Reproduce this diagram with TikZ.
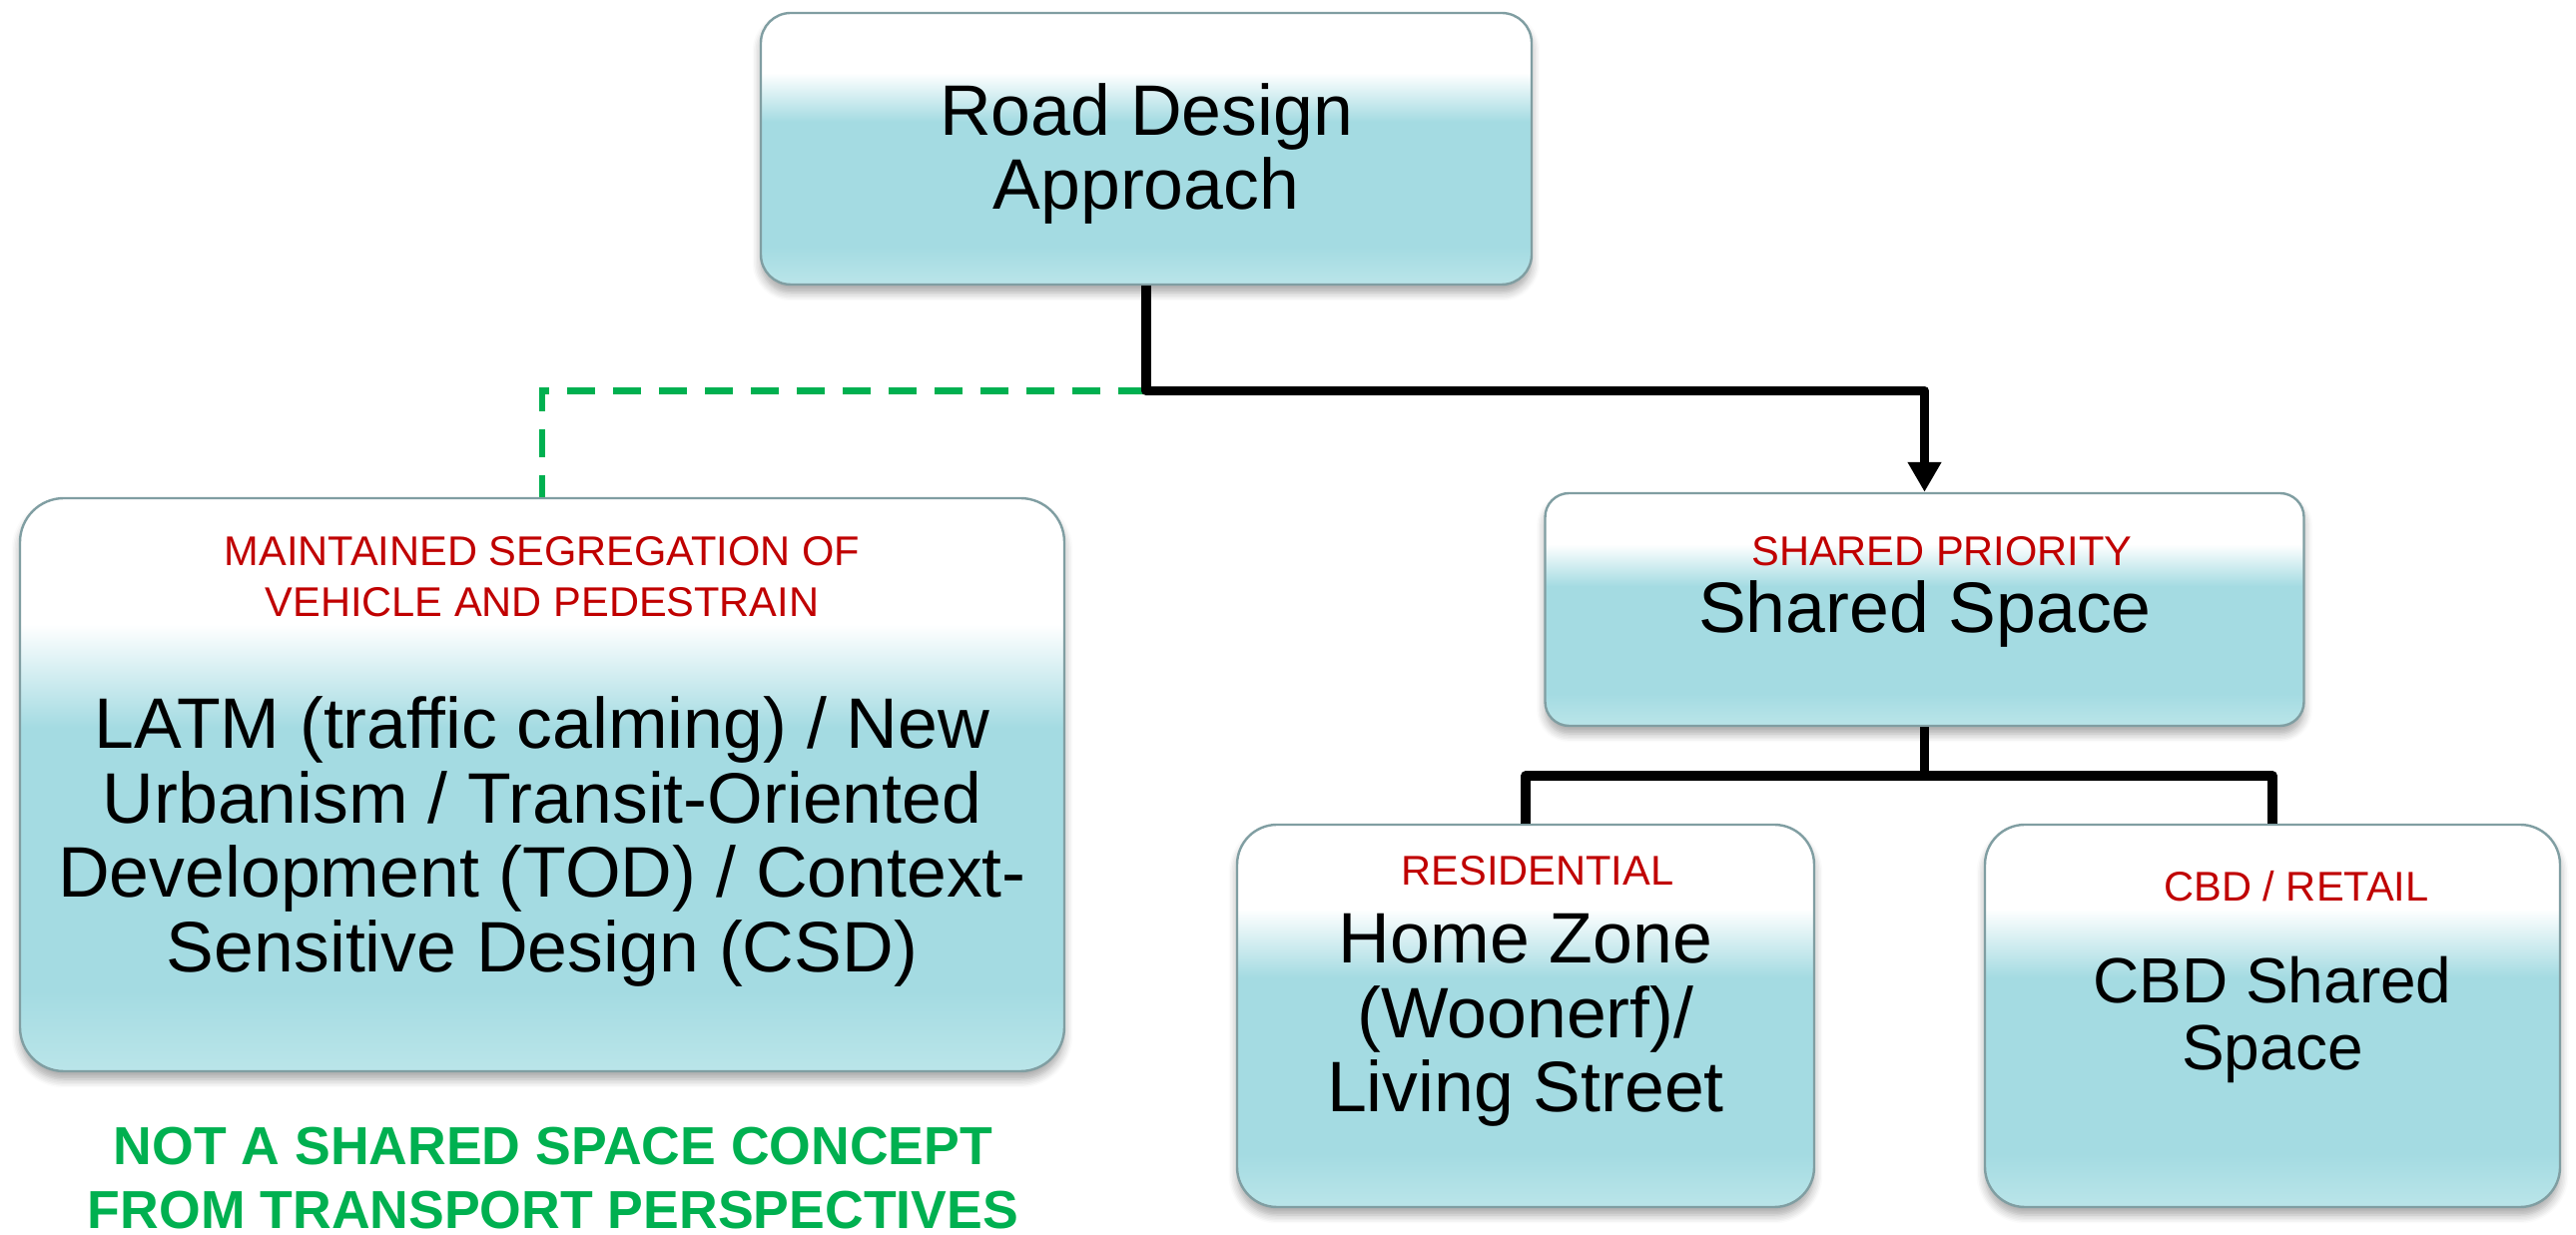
\documentclass[tikz,border=0pt]{standalone}
\usepackage{fontspec}
\setmainfont{Liberation Sans}
\usetikzlibrary{arrows.meta,shadows.blur}

\definecolor{tealmid}{RGB}{164,219,226}
\definecolor{tealbot}{RGB}{186,229,233}
\definecolor{boxedge}{RGB}{128,158,162}
\definecolor{redtxt}{RGB}{192,0,0}
\definecolor{greentxt}{RGB}{0,176,80}

\pgfdeclareverticalshading{boxshade}{100bp}{color(0bp)=(tealbot); color(25bp)=(tealbot); color(32bp)=(tealmid); color(55bp)=(tealmid); color(64bp)=(white); color(75bp)=(white); color(100bp)=(white)}

\tikzset{
  rbox/.style={draw=boxedge, line width=0.6pt, rounded corners=#1, shade, shading=boxshade,
    blur shadow={shadow xshift=0pt, shadow yshift=-2pt, shadow blur steps=6, shadow opacity=35},
    inner sep=0pt},
  maintxt/.style={font=\fontsize{17.9}{18.6}\selectfont, align=center, inner sep=0pt},
  redlab/.style={text=redtxt, font=\fontsize{10.4}{12.75}\selectfont, align=center, inner sep=0pt},
  greenlab/.style={text=greentxt, font=\bfseries\fontsize{13.4}{16}\selectfont, align=center, inner sep=0pt},
  conn/.style={draw=black, line width=2.4pt, line join=round},
  gdash/.style={draw=greentxt, line width=1.6pt, dash pattern=on 7pt off 4.5pt},
}

\begin{document}
\begin{tikzpicture}[x=0.25pt, y=-0.25pt]
\useasboundingbox (0,0) rectangle (2580,1237);

% boxes
\node[rbox=7.5pt, minimum width=193pt, minimum height=68pt] (top) at (1148,149) {};
\node[rbox=11pt, minimum width=261.5pt, minimum height=143.5pt] (left) at (543,786) {};
\node[rbox=6pt, minimum width=190pt, minimum height=58.25pt] (shared) at (1927.5,610.5) {};
\node[rbox=10pt, minimum width=144.5pt, minimum height=95.75pt] (home) at (1528,1017.5) {};
\node[rbox=10pt, minimum width=144pt, minimum height=95.75pt] (cbd) at (2276,1017.5) {};

% texts
\node[maintxt] (toptxt) at (1148,154) {Road Design\\Approach};
\node[redlab] (leftred) at (543,578) {MAINTAINED SEGREGATION OF\\VEHICLE AND PEDESTRAIN};
\node[maintxt] (lefttxt) at (543,843) {LATM (traffic calming) / New\\Urbanism / Transit-Oriented\\Development (TOD) / Context-\\Sensitive Design (CSD)};
\node[redlab] (sharedred) at (1945,552) {SHARED PRIORITY};
\node[maintxt] (sharedtxt) at (1928,615) {Shared Space};
\node[redlab] (homered) at (1540,872) {RESIDENTIAL};
\node[maintxt] (hometxt) at (1528,1022) {Home Zone\\(Woonerf)/\\Living Street};
\node[redlab] (cbdred) at (2300,888) {CBD / RETAIL};
\node[maintxt, font=\fontsize{16}{16.75}\selectfont] (cbdtxt) at (2276,1021) {CBD Shared\\Space};
\node[greenlab] (note) at (554,1180) {NOT A SHARED SPACE CONCEPT\\FROM TRANSPORT PERSPECTIVES};

% connectors
\coordinate (j1) at (1148,391.5);
\coordinate (j2) at (1927.5,777);
\draw[gdash] (j1) -| (left.north);
\draw[conn, -{Triangle[length=7.5pt, width=8pt]}] (top.south) -- (j1) -| (shared.north);
\draw[conn] (shared.south) -- (j2);
\draw[conn] (home.north) |- (j2) -| (cbd.north);
\end{tikzpicture}
\end{document}
